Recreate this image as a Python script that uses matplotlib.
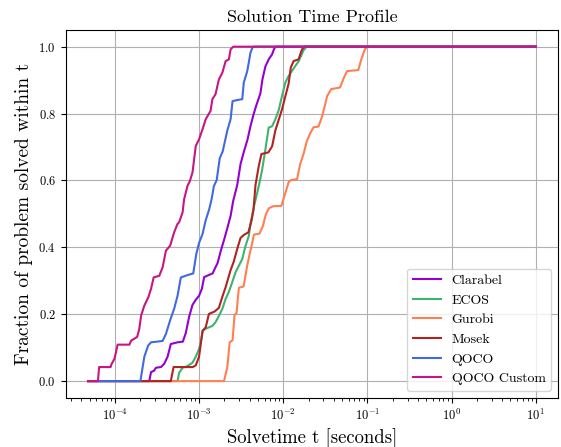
import matplotlib
matplotlib.use("Agg")
import matplotlib.pyplot as plt

plt.rcParams["font.family"] = "serif"
plt.rcParams["font.serif"] = ["cmr10", "DejaVu Serif"]
plt.rcParams["mathtext.fontset"] = "cm"
plt.rcParams["axes.formatter.use_mathtext"] = True

T_END = 10.0

# solve-time profiles (seconds, fraction solved)
clarabel_t = [4.8e-5, 2.56e-4, 2.69e-4, 2.92e-4, 3.08e-4, 3.53e-4, 3.86e-4, 4.23e-4, 4.62e-4,
              5.55e-4, 6.42e-4, 6.96e-4, 7.62e-4, 8.36e-4, 9.14e-4, 1.0e-3, 1.08e-3, 1.15e-3,
              1.30e-3, 1.45e-3, 1.53e-3, 1.66e-3, 1.81e-3, 1.98e-3, 2.17e-3, 2.37e-3, 2.54e-3,
              2.84e-3, 3.11e-3, 3.40e-3, 3.77e-3, 4.08e-3, 4.38e-3, 4.75e-3, 5.12e-3, 5.36e-3,
              5.66e-3, 6.14e-3, 6.72e-3, 7.37e-3, 7.75e-3, 8.07e-3, T_END]
clarabel_f = [0.0, 0.0, 0.027, 0.031, 0.040, 0.042, 0.052, 0.073, 0.111,
              0.116, 0.118, 0.144, 0.192, 0.228, 0.243, 0.255, 0.276, 0.311,
              0.317, 0.322, 0.335, 0.353, 0.389, 0.422, 0.458, 0.494, 0.538,
              0.586, 0.649, 0.685, 0.723, 0.762, 0.792, 0.822, 0.846, 0.861,
              0.902, 0.941, 0.962, 0.977, 0.992, 1.0, 1.0]

ecos_t = [4.8e-5, 5.55e-4, 5.80e-4, 6.37e-4, 7.16e-4, 8.36e-4, 9.14e-4, 1.0e-3, 1.05e-3,
          1.11e-3, 1.26e-3, 1.44e-3, 1.57e-3, 1.72e-3, 1.89e-3, 2.07e-3, 2.26e-3, 2.48e-3,
          2.72e-3, 2.97e-3, 3.26e-3, 3.56e-3, 3.90e-3, 4.08e-3, 4.47e-3, 5.12e-3, 5.61e-3,
          6.14e-3, 6.72e-3, 7.37e-3, 8.07e-3, 8.83e-3, 9.68e-3, 1.06e-2, 1.15e-2, 1.33e-2,
          1.52e-2, 1.74e-2, 1.90e-2, T_END]
ecos_f = [0.0, 0.0, 0.025, 0.040, 0.044, 0.055, 0.073, 0.096, 0.117,
          0.152, 0.159, 0.165, 0.176, 0.195, 0.216, 0.246, 0.267, 0.296,
          0.326, 0.345, 0.365, 0.404, 0.434, 0.470, 0.520, 0.583, 0.631,
          0.693, 0.758, 0.762, 0.783, 0.810, 0.853, 0.893, 0.911, 0.935,
          0.956, 0.989, 1.0, 1.0]

gurobi_t = [4.8e-5, 1.98e-3, 2.17e-3, 2.31e-3, 2.50e-3, 2.64e-3, 2.79e-3, 2.97e-3, 3.38e-3,
            3.73e-3, 3.92e-3, 4.25e-3, 4.49e-3, 5.21e-3, 5.74e-3, 6.22e-3, 6.76e-3, 7.64e-3,
            9.50e-3, 1.04e-2, 1.16e-2, 1.23e-2, 1.46e-2, 1.59e-2, 1.74e-2, 1.91e-2, 2.09e-2,
            2.29e-2, 2.62e-2, 2.90e-2, 3.15e-2, 3.32e-2, 3.71e-2, 4.73e-2, 5.27e-2, 5.73e-2,
            7.78e-2, 8.53e-2, 9.33e-2, 0.1, T_END]
gurobi_f = [0.0, 0.0, 0.043, 0.116, 0.122, 0.198, 0.204, 0.279, 0.283,
            0.345, 0.371, 0.410, 0.438, 0.441, 0.464, 0.499, 0.517, 0.523,
            0.524, 0.556, 0.595, 0.601, 0.604, 0.649, 0.679, 0.718, 0.741,
            0.759, 0.761, 0.792, 0.828, 0.852, 0.873, 0.878, 0.908, 0.927,
            0.930, 0.965, 0.992, 1.0, 1.0]

mosek_t = [4.8e-5, 4.62e-4, 4.98e-4, 8.43e-4, 9.14e-4, 1.0e-3, 1.10e-3, 1.20e-3, 1.31e-3,
           1.53e-3, 1.72e-3, 1.89e-3, 2.07e-3, 2.37e-3, 2.59e-3, 2.84e-3, 3.11e-3, 3.40e-3,
           3.86e-3, 4.19e-3, 4.43e-3, 4.68e-3, 5.12e-3, 5.51e-3, 6.67e-3, 7.37e-3, 8.07e-3,
           9.68e-3, 1.06e-2, 1.16e-2, 1.23e-2, 1.33e-2, 1.52e-2, 1.67e-2, 1.78e-2, T_END]
mosek_f = [0.0, 0.0, 0.042, 0.042, 0.047, 0.073, 0.150, 0.161, 0.201,
           0.208, 0.219, 0.252, 0.281, 0.332, 0.358, 0.395, 0.428, 0.437,
           0.445, 0.479, 0.511, 0.586, 0.643, 0.679, 0.684, 0.702, 0.750,
           0.813, 0.852, 0.890, 0.938, 0.957, 0.962, 0.992, 1.0, 1.0]

qoco_t = [4.8e-5, 2.01e-4, 2.24e-4, 2.48e-4, 2.69e-4, 3.69e-4, 4.04e-4, 4.59e-4, 5.06e-4,
          5.55e-4, 6.08e-4, 7.30e-4, 8.53e-4, 9.27e-4, 1.0e-3, 1.10e-3, 1.20e-3, 1.32e-3,
          1.41e-3, 1.50e-3, 1.62e-3, 1.76e-3, 1.91e-3, 2.17e-3, 2.37e-3, 2.50e-3, 2.79e-3,
          3.26e-3, 3.40e-3, 3.73e-3, 3.90e-3, 4.08e-3, 4.31e-3, 4.43e-3, T_END]
qoco_f = [0.0, 0.0, 0.073, 0.106, 0.116, 0.120, 0.141, 0.186, 0.216,
          0.255, 0.310, 0.317, 0.322, 0.380, 0.413, 0.440, 0.481, 0.514,
          0.544, 0.583, 0.601, 0.666, 0.687, 0.750, 0.783, 0.837, 0.840,
          0.843, 0.893, 0.926, 0.953, 0.982, 0.997, 1.0, 1.0]

custom_t = [4.8e-5, 6.3e-5, 6.5e-5, 8.9e-5, 9.1e-5, 9.9e-5, 1.08e-4, 1.49e-4, 1.56e-4,
            1.84e-4, 1.95e-4, 2.05e-4, 2.24e-4, 2.50e-4, 2.69e-4, 2.89e-4, 3.37e-4, 3.69e-4,
            4.04e-4, 4.54e-4, 5.06e-4, 5.55e-4, 5.80e-4, 6.37e-4, 6.65e-4, 7.30e-4, 7.80e-4,
            8.36e-4, 9.14e-4, 1.0e-3, 1.10e-3, 1.20e-3, 1.37e-3, 1.44e-3, 1.57e-3, 1.72e-3,
            1.89e-3, 2.07e-3, 2.26e-3, 2.37e-3, 2.55e-3, T_END]
custom_f = [0.0, 0.0, 0.042, 0.042, 0.050, 0.067, 0.109, 0.109, 0.121,
            0.132, 0.156, 0.196, 0.226, 0.251, 0.276, 0.310, 0.315, 0.340,
            0.390, 0.405, 0.445, 0.470, 0.475, 0.504, 0.544, 0.584, 0.599,
            0.624, 0.703, 0.723, 0.753, 0.783, 0.808, 0.843, 0.858, 0.902,
            0.922, 0.957, 0.962, 0.992, 1.0, 1.0]

solvers = ["Clarabel", "ECOS", "Gurobi", "Mosek", "QOCO", "QOCO Custom"]
times = [clarabel_t, ecos_t, gurobi_t, mosek_t, qoco_t, custom_t]
fracs = [clarabel_f, ecos_f, gurobi_f, mosek_f, qoco_f, custom_f]
colors = ["darkviolet", "mediumseagreen", "coral", "firebrick", "royalblue", "mediumvioletred"]

fig = plt.figure(figsize=(5.61, 4.47), dpi=100)
ax = fig.add_axes([0.117, 0.11, 0.878, 0.823])

for name, t, f, c in zip(solvers, times, fracs, colors):
    ax.plot(t, f, color=c, linewidth=1.5, label=name)

ax.set_xscale("log")
ax.grid(True)
ax.set_title("Solution Time Profile", fontsize=13)
ax.set_xlabel("Solvetime t [seconds]", fontsize=13.5)
ax.set_ylabel("Fraction of problem solved within t", fontsize=14)
ax.tick_params(labelsize=9)
ax.legend(loc="lower right", fontsize=10)

fig.savefig("out.png", dpi=100)
